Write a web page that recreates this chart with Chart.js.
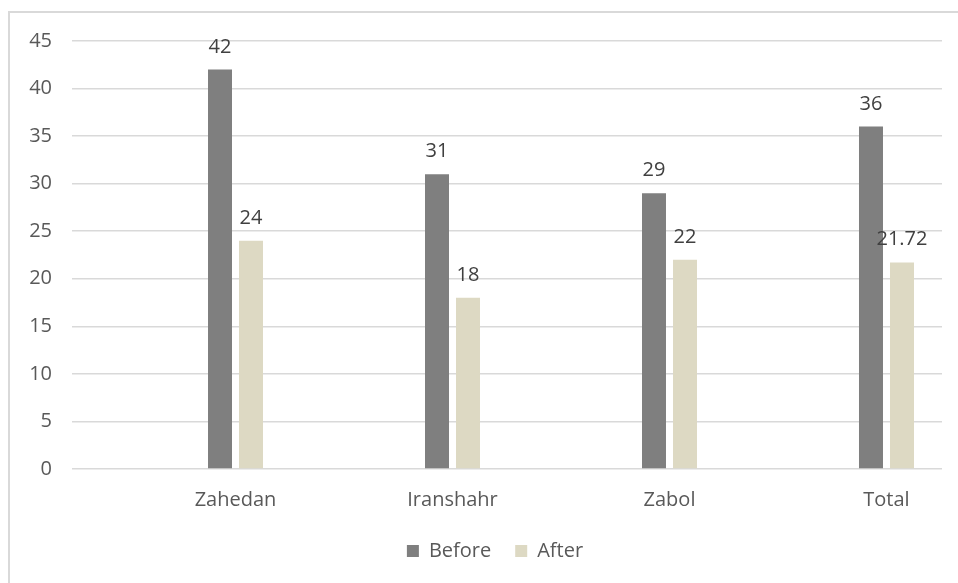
<!DOCTYPE html>
<html>
<head>
<meta charset="utf-8">
<script src="https://cdn.jsdelivr.net/npm/chart.js@4.4.1/dist/chart.umd.min.js"></script>
<style>
  html, body { margin: 0; padding: 0; background: #fff; overflow: hidden; }
  #frame { position: absolute; left: 8px; top: 11px; width: 1200px; height: 900px; border: 2px solid #d9d9d9; }
  #wrap { position: absolute; left: 0; top: 0; width: 958px; height: 585px; }
</style>
</head>
<body>
<div id="frame"></div>
<div id="wrap"><canvas id="chart"></canvas></div>
<script>
// values
const cities = ['Zahedan', 'Iranshahr', 'Zabol', 'Total'];
const before = [42, 31, 29, 36];
const after = [24, 18, 22, 21.72];
const yTicks = [0, 5, 10, 15, 20, 25, 30, 35, 40, 45];

const FONT = { family: '"Open Sans", "Noto Sans", sans-serif', size: 20 };
const TICK_COLOR = '#595959';

const toPoints = vals => vals.map((v, i) => ({ x: i + 1, y: v }));

// value labels above each bar
const barLabels = {
  id: 'barLabels',
  afterDatasetsDraw(chart) {
    const ctx = chart.ctx;
    ctx.save();
    ctx.font = `${FONT.size}px ${FONT.family}`;
    ctx.fillStyle = '#404040';
    ctx.textAlign = 'center';
    ctx.textBaseline = 'alphabetic';
    chart.data.datasets.forEach((ds, di) => {
      chart.getDatasetMeta(di).data.forEach((bar, i) => {
        ctx.fillText(String(ds.data[i].y), bar.x, bar.y - 17);
      });
    });
    ctx.restore();
  }
};

// nudge the legend to where the original sits
const legendNudge = {
  id: 'legendNudge',
  afterLayout(chart) {
    const lg = chart.legend;
    if (!lg) return;
    lg.left += 19; lg.right += 19;
    lg.top -= 14; lg.bottom -= 14;
  }
};

new Chart(document.getElementById('chart'), {
  type: 'bar',
  data: {
    datasets: [
      { label: 'Before', data: toPoints(before), backgroundColor: '#7f7f7f' },
      { label: 'After', data: toPoints(after), backgroundColor: '#ddd9c3' }
    ]
  },
  options: {
    responsive: true,
    maintainAspectRatio: false,
    animation: false,
    categoryPercentage: 0.2857,
    barPercentage: 0.774,
    layout: { padding: { left: 10, right: 16, top: 41, bottom: 0 } },
    plugins: {
      legend: {
        position: 'bottom',
        labels: { boxWidth: 12, boxHeight: 12, padding: 24, color: TICK_COLOR, font: FONT }
      },
      tooltip: { enabled: false }
    },
    scales: {
      x: {
        type: 'linear',
        min: 0.2465,
        max: 4.2558,
        offset: false,
        grid: { display: false, drawTicks: false },
        border: { display: false },
        afterBuildTicks: s => { s.ticks = cities.map((c, i) => ({ value: i + 1 })); },
        ticks: { padding: 19, color: TICK_COLOR, font: FONT, callback: (v, i) => cities[i] }
      },
      y: {
        min: 0,
        max: 45,
        afterBuildTicks: s => { s.ticks = yTicks.map(v => ({ value: v })); },
        grid: { color: '#d9d9d9', lineWidth: 1.5, drawTicks: false },
        border: { display: false },
        afterFit: s => { s.width = 62; },
        ticks: { padding: 20, color: TICK_COLOR, font: FONT }
      }
    }
  },
  plugins: [barLabels, legendNudge]
});
</script>
</body>
</html>
